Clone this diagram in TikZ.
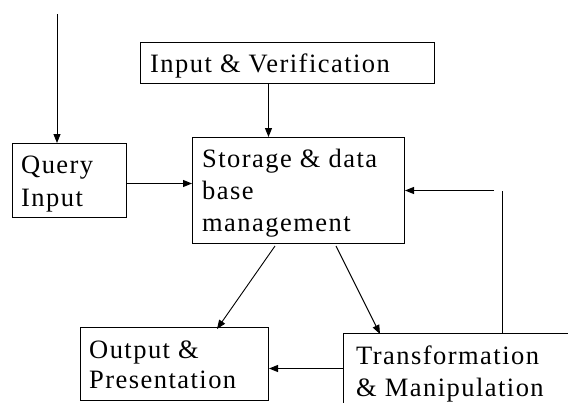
\documentclass[tikz,border=0pt]{standalone}
\usepackage{fontspec}
\setmainfont[LetterSpace=5.5]{Liberation Serif}
\usetikzlibrary{arrows.meta,calc}
\tikzset{
  box/.style={draw, line width=1pt, rectangle, inner sep=0pt, anchor=north west},
  lbl/.style={anchor=base west, inner sep=0pt, font=\fontsize{26.5}{31}\selectfont},
  arr/.style={line width=0.9pt, -{Triangle[length=9pt,width=7pt]}},
  ln/.style={line width=0.9pt}
}
\begin{document}
\begin{tikzpicture}[x=1pt, y=-1pt]
\useasboundingbox (0,0) rectangle (568,402);
\clip (0,0) rectangle (568,402);
% boxes
\node[box, minimum width=294pt, minimum height=41pt] (iv) at (140,42) {};
\node[box, minimum width=212pt, minimum height=106pt] (stor) at (192,137) {};
\node[box, minimum width=114pt, minimum height=74pt] (query) at (12,143) {};
\node[box, minimum width=188pt, minimum height=73pt] (out) at (80,327) {};
\node[box, minimum width=260pt, minimum height=100pt] (tr) at (343,333) {};
% labels
\node[lbl] (tiv) at (150,72) {Input \& Verification};
\node[lbl] (ts1) at (202,167.5) {Storage \& data};
\node[lbl] (ts2) at (202,199.5) {base};
\node[lbl] (ts3) at (202,231.5) {management};
\node[lbl] (tq1) at (21,173) {Query};
\node[lbl] (tq2) at (21,206) {Input};
\node[lbl] (to1) at (89,358) {Output \&};
\node[lbl] (to2) at (89,388) {Presentation};
\node[lbl] (tt1) at (356,364) {Transformation};
\node[lbl] (tt2) at (356,396) {\& Manipulation};
% connectors
\coordinate (qin) at (57,14);
\draw[arr] (qin) -- ([xshift=45pt]query.north west);
\draw[arr] ([xshift=-19pt]iv.south) -- ([xshift=-30pt]stor.north);
\draw[arr] ([yshift=-3pt]query.east) -- ([yshift=-3pt]query.east -| stor.west);
\draw[arr] ([xshift=83pt,yshift=-2pt]stor.south west) -- ([xshift=137pt,yshift=-2pt]out.north west);
\draw[arr] ([xshift=144pt,yshift=-2pt]stor.south west) -- ([xshift=37pt,yshift=-1pt]tr.north west);
\draw[arr] ([yshift=-4.5pt]out.east -| tr.west) -- ([yshift=-4.5pt]out.east);
\coordinate (fbtop) at (502,191);
\coordinate (fbend) at (494,190.5);
\draw[ln] ([xshift=159pt]tr.north west) -- (fbtop);
\draw[arr] (fbend) -- (fbend -| stor.east);
\end{tikzpicture}
\end{document}
